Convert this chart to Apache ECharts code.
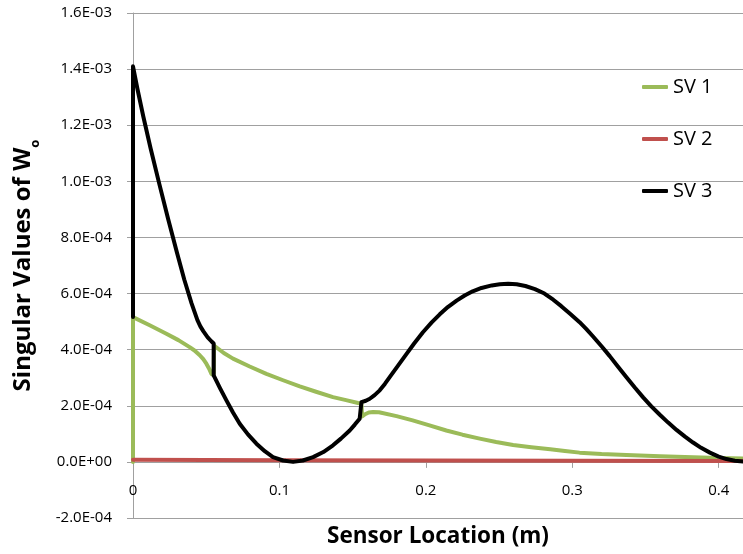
<!DOCTYPE html>
<html>
<head>
<meta charset="utf-8">
<script src="https://cdn.jsdelivr.net/npm/echarts@6/dist/echarts.min.js"></script>
<style>html,body{margin:0;padding:0;background:#fff}#c{width:743px;height:554px}</style>
</head>
<body>
<div id="c"></div>
<script>
// ---- data ----
var seriesNames = ['SV 1', 'SV 2', 'SV 3'];
var xTicks = [0, 0.1, 0.2, 0.3, 0.4];
var yTicks = [-2e-4, 0, 2e-4, 4e-4, 6e-4, 8e-4, 1e-3, 1.2e-3, 1.4e-3, 1.6e-3];

var sv1X = [0, 0, 0.0114, 0.0228, 0.031, 0.0387, 0.042, 0.0456, 0.048, 0.0501, 0.052, 0.0535, 0.0551,
  0.0553, 0.0558, 0.062, 0.0683, 0.0797, 0.0911, 0.1025, 0.1139, 0.125, 0.1366, 0.1455, 0.1537, 0.156,
  0.1565, 0.1585, 0.161, 0.164, 0.168, 0.18, 0.191, 0.2025, 0.214, 0.225, 0.2368, 0.248, 0.2596, 0.272,
  0.285, 0.295, 0.305, 0.32, 0.337, 0.36, 0.3825, 0.4, 0.4166];
var sv1Y = [0, 5.16e-4, 4.87e-4, 4.57e-4, 4.34e-4, 4.09e-4, 3.97e-4, 3.80e-4, 3.66e-4, 3.50e-4, 3.32e-4, 3.14e-4, 3.08e-4,
  4.15e-4, 4.09e-4, 3.88e-4, 3.68e-4, 3.40e-4, 3.14e-4, 2.91e-4, 2.69e-4, 2.50e-4, 2.31e-4, 2.20e-4, 2.10e-4, 2.08e-4,
  1.62e-4, 1.70e-4, 1.76e-4, 1.78e-4, 1.77e-4, 1.63e-4, 1.48e-4, 1.30e-4, 1.12e-4, 0.97e-4, 0.83e-4, 0.71e-4, 0.60e-4, 0.52e-4,
  0.45e-4, 0.39e-4, 0.33e-4, 0.28e-4, 0.245e-4, 0.20e-4, 0.165e-4, 0.14e-4, 0.12e-4];

var sv2X = [0, 0.1, 0.2, 0.3, 0.4166];
var sv2Y = [8e-6, 6e-6, 5e-6, 4e-6, 3e-6];

var sv3X = [0, 0, 0.003, 0.007, 0.012, 0.018, 0.024, 0.030, 0.035, 0.040, 0.044, 0.046, 0.048, 0.051, 0.0535, 0.0551,
  0.0551, 0.0595, 0.0638, 0.0683, 0.0729, 0.0785, 0.0843, 0.09, 0.0956, 0.1025, 0.1093, 0.116, 0.123, 0.13, 0.1366, 0.142, 0.148, 0.1515, 0.1548, 0.156,
  0.156, 0.159, 0.1617, 0.165, 0.1685, 0.172, 0.1753, 0.181, 0.1867, 0.192, 0.198, 0.204, 0.2095, 0.215, 0.221, 0.2265, 0.232, 0.238, 0.245, 0.2505, 0.2562,
  0.262, 0.268, 0.2745, 0.281, 0.287, 0.2925, 0.2985, 0.305, 0.3095, 0.3142, 0.32, 0.3256, 0.331, 0.337, 0.3427, 0.3484, 0.354, 0.3598, 0.3655, 0.3712,
  0.377, 0.3825, 0.388, 0.394, 0.4, 0.4053, 0.411, 0.4166];
var sv3Y = [5.16e-4, 1.41e-3, 1.33e-3, 1.232e-3, 1.118e-3, 9.90e-4, 8.66e-4, 7.46e-4, 6.50e-4, 5.65e-4, 5.05e-4, 4.83e-4, 4.66e-4, 4.44e-4, 4.30e-4, 4.22e-4,
  3.08e-4, 2.62e-4, 2.19e-4, 1.76e-4, 1.36e-4, 0.98e-4, 0.65e-4, 0.38e-4, 0.17e-4, 0.05e-4, 0, 0.05e-4, 0.17e-4, 0.35e-4, 0.59e-4, 0.83e-4, 1.12e-4, 1.33e-4, 1.54e-4, 1.60e-4,
  2.13e-4, 2.18e-4, 2.25e-4, 2.38e-4, 2.55e-4, 2.78e-4, 3.02e-4, 3.43e-4, 3.84e-4, 4.22e-4, 4.62e-4, 4.97e-4, 5.26e-4, 5.52e-4, 5.75e-4, 5.93e-4, 6.08e-4, 6.20e-4, 6.29e-4, 6.33e-4, 6.35e-4,
  6.33e-4, 6.27e-4, 6.16e-4, 6.00e-4, 5.78e-4, 5.55e-4, 5.28e-4, 4.98e-4, 4.74e-4, 4.47e-4, 4.12e-4, 3.77e-4, 3.41e-4, 3.02e-4, 2.65e-4, 2.30e-4, 1.98e-4, 1.68e-4, 1.40e-4, 1.14e-4,
  0.90e-4, 0.69e-4, 0.50e-4, 0.33e-4, 0.19e-4, 0.10e-4, 0.04e-4, 0.01e-4];

// ---- chart ----
function pairs(xs, ys) { return xs.map(function (x, i) { return [x, ys[i]]; }); }
var FONT = 'Open Sans';
var colors = ['#9BBB59', '#C0504D', '#000000'];
var chart = echarts.init(document.getElementById('c'), null, { renderer: 'canvas' });

function sciFmt(v) {
  var s = Number(v).toExponential(1);
  var m = s.split('e');
  var exp = parseInt(m[1], 10);
  var sign = exp < 0 ? '-' : '+';
  var a = Math.abs(exp);
  return m[0] + 'E' + sign + (a < 10 ? '0' + a : a);
}

var data = [pairs(sv1X, sv1Y), pairs(sv2X, sv2Y), pairs(sv3X, sv3Y)];

chart.setOption({
  animation: false,
  backgroundColor: '#ffffff',
  textStyle: { fontFamily: FONT },
  grid: { left: 133, right: 0, top: 13, bottom: 36, containLabel: false, outerBoundsMode: 'none' },
  legend: {
    orient: 'vertical', left: 637, top: 72, itemGap: 32,
    itemWidth: 26, itemHeight: 4, icon: 'roundRect',
    textStyle: { fontFamily: FONT, fontSize: 20, color: '#000' },
    data: seriesNames
  },
  xAxis: {
    type: 'value', min: xTicks[0], max: 0.4166, interval: 0.1,
    name: 'Sensor Location (m)', nameLocation: 'middle', nameGap: 7,
    nameTextStyle: { fontFamily: FONT, fontSize: 22.5, fontWeight: 'bold', color: '#000' },
    axisLine: { show: true, onZero: true, lineStyle: { color: '#A0A0A0', width: 1 } },
    axisTick: { show: true, length: 6, lineStyle: { color: '#A0A0A0' } },
    axisLabel: { margin: -35, fontSize: 15, fontFamily: FONT, color: '#000', showMaxLabel: false },
    splitLine: { show: false }
  },
  yAxis: {
    type: 'value', min: yTicks[0], max: yTicks[yTicks.length - 1], interval: 2e-4,
    name: 'Singular Values of W{sub|o}', nameLocation: 'middle', nameGap: 91,
    nameTextStyle: {
      fontFamily: FONT, fontSize: 24, fontWeight: 'bold', color: '#000',
      rich: { sub: { fontFamily: FONT, fontSize: 13, fontWeight: 'bold', color: '#000', verticalAlign: 'bottom', lineHeight: 38 } }
    },
    axisLine: { show: true, lineStyle: { color: '#A0A0A0', width: 1 } },
    axisTick: { show: true, length: 6, lineStyle: { color: '#A0A0A0' } },
    axisLabel: { margin: 21, fontSize: 15, fontFamily: FONT, color: '#000', formatter: sciFmt },
    splitLine: { show: true, lineStyle: { color: '#A0A0A0', width: 1 } }
  },
  series: seriesNames.map(function (n, i) {
    return {
      name: n, type: 'line', data: data[i], showSymbol: false, symbol: 'none',
      smooth: false, clip: true,
      lineStyle: { color: colors[i], width: 4, cap: 'round', join: 'round' },
      itemStyle: { color: colors[i] },
      emphasis: { disabled: true }
    };
  })
});
</script>
</body>
</html>
